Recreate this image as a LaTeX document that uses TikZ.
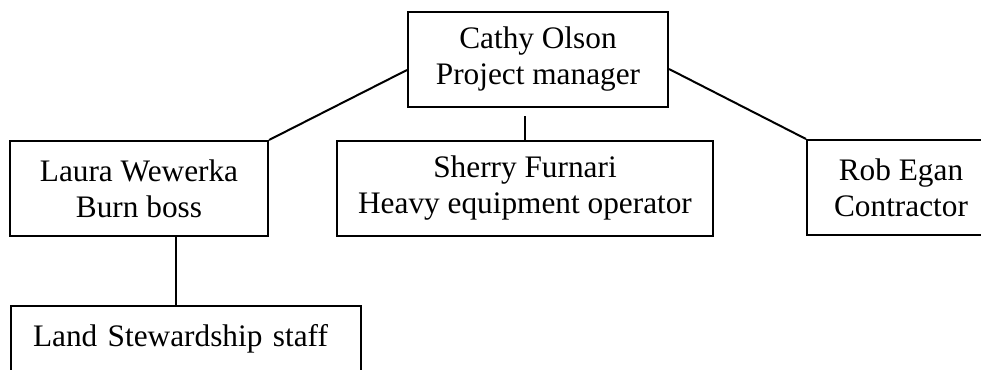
\documentclass[tikz,border=0pt]{standalone}
\usepackage{fontspec}
\setmainfont{Liberation Serif}
\begin{document}
\begin{tikzpicture}[x=1pt,y=-1pt,
  every node/.style={font=\fontsize{31.3}{36}\selectfont},
  orgbox/.style={draw, line width=2pt, align=center, inner sep=0pt},
  link/.style={line width=2pt}]
\useasboundingbox (0,0) rectangle (981,369);
\node[orgbox, minimum width=260, minimum height=95] (top) at (538,59.5) {Cathy Olson\\Project manager};
\node[orgbox, minimum width=258, minimum height=95] (left) at (139,188.5) {Laura Wewerka\\Burn boss};
\node[orgbox, minimum width=376, minimum height=95] (mid) at (525,188.5) {Sherry Furnari\\Heavy equipment operator};
\node[orgbox, minimum width=188, minimum height=95] (right) at (901,187.5) {Rob Egan\\Contractor};
\node[orgbox, anchor=north west, minimum width=350, minimum height=95, text width=306, inner xsep=22pt, align=left] (staff) at (10,305) {Land Stewardship staff\\\mbox{}};
\draw[link] (left.north east) -- ([yshift=-10.5pt]top.west);
\draw[link] ([yshift=-9.5pt]top.east) -- (right.north west);
\draw[link] ([yshift=-8pt]top.south -| mid.north) -- (mid.north);
\draw[link] ([xshift=37pt]left.south) -- ([xshift=37pt]left.south |- staff.north);
\end{tikzpicture}
\end{document}
